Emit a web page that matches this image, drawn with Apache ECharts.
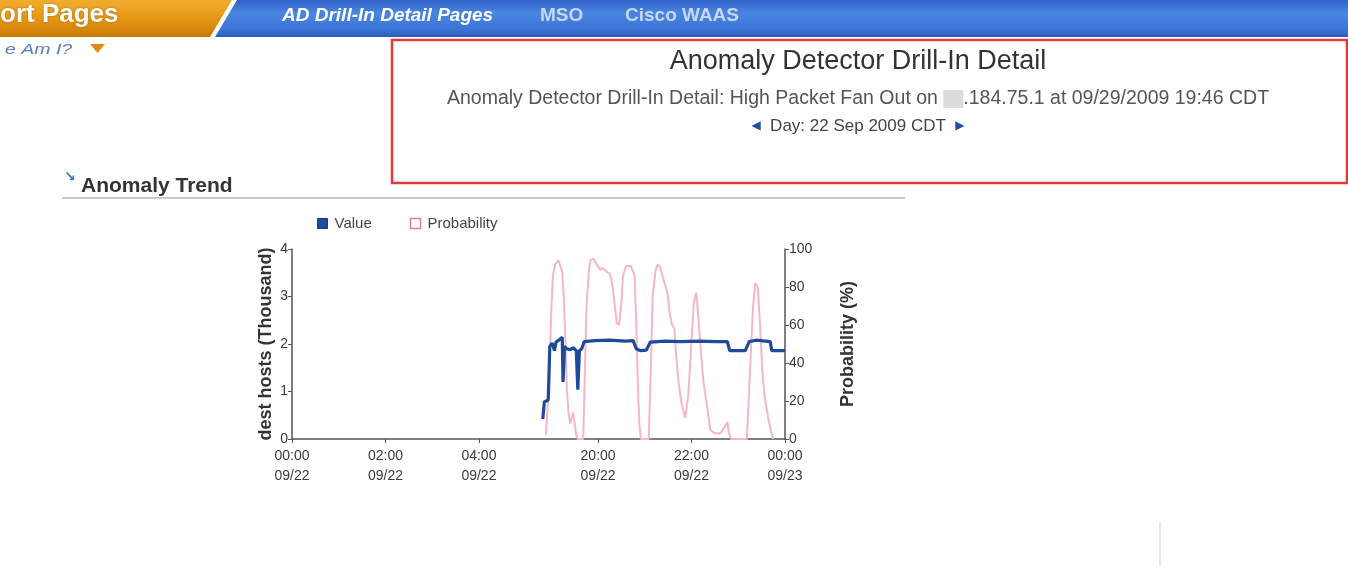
<!DOCTYPE html>
<html>
<head>
<meta charset="utf-8">
<script src="https://cdn.jsdelivr.net/npm/echarts@6/dist/echarts.min.js"></script>
<style>
  html, body { margin: 0; padding: 0; background: #fff; }
  #chart { width: 1348px; height: 570px; }
</style>
</head>
<body>
<div id="chart"></div>
<script>
// ---------------- DATA ----------------
const tickTimes = ['00:00', '02:00', '04:00', '20:00', '22:00', '24:00'];
const tickDates = ['09/22', '09/22', '09/22', '09/22', '09/22', '09/23'];
const tickTimeLabels = ['00:00', '02:00', '04:00', '20:00', '22:00', '00:00'];

const valueTimes = ['18:49','18:51','18:56','18:58','19:01','19:04','19:06','19:11','19:14','19:15','19:17','19:20','19:24','19:28','19:32','19:34','19:36','19:39','19:42','19:56','20:15','20:35','20:45','20:49','20:54','21:02','21:07','21:26','21:45','22:11','22:30','22:46','22:49','23:09','23:14','23:23','23:41','23:43','24:00'];
const valueData  = [0.42, 0.78, 0.82, 1.95, 2.02, 1.86, 2.04, 2.10, 2.14, 1.20, 1.95, 1.90, 1.88, 1.92, 1.86, 1.04, 1.86, 1.90, 2.05, 2.07, 2.08, 2.06, 2.07, 1.90, 1.86, 1.87, 2.04, 2.06, 2.05, 2.06, 2.05, 2.05, 1.86, 1.86, 2.05, 2.08, 2.05, 1.86, 1.86];

const probTimes = ['18:53','18:57','19:00','19:02','19:05','19:09','19:11','19:14','19:16','19:18','19:20','19:22','19:24','19:28','19:32','19:34','19:41','19:43','19:45','19:48','19:50','19:54','19:58','20:03','20:06','20:11','20:15','20:18','20:21','20:24','20:27','20:30','20:32','20:36','20:42','20:47','20:49','20:51','20:53','20:55','21:05','21:08','21:10','21:14','21:17','21:20','21:24','21:29','21:32','21:35','21:38','21:40','21:43','21:47','21:52','21:56','22:00','22:03','22:06','22:08','22:11','22:15','22:20','22:24','22:29','22:37','22:42','22:46','22:48','22:51','23:11','23:15','23:19','23:22','23:25','23:28','23:31','23:34','23:38','23:42','23:45'];
const probData  = [2, 30, 68, 86, 92, 94, 95, 88, 75, 52, 26, 14, 8, 14, 2, 0, 0, 35, 68, 88, 94, 95, 92, 89, 90, 88, 87, 82, 72, 61, 60, 72, 86, 91, 91, 86, 60, 30, 8, 0, 0, 40, 75, 89, 92, 90, 84, 77, 66, 60, 58, 45, 31, 19, 11, 24, 52, 72, 77, 68, 52, 31, 17, 5, 3, 3, 6, 9, 3, 0, 0, 35, 70, 82, 80, 60, 35, 22, 12, 4, 0];

// ---------------- AXIS COMPRESSION (hidden stretch of the day) ----------------
const SKIP_HOURS = 13.45;   // the empty 04:00-20:00 stretch is collapsed on this axis
function hours(t) { const p = t.split(':'); return +p[0] + (+p[1]) / 60; }
function toAxis(h) { return h >= 12 ? h - SKIP_HOURS : h; }

const tickAxisVals = tickTimes.map(t => toAxis(hours(t)));
const AXIS_MAX = toAxis(24);

const valueSeries = valueTimes.map((t, i) => [toAxis(hours(t)), valueData[i]]);
const probSeries = probTimes.map((t, i) => [toAxis(hours(t)), probData[i]]);

const FONT = '"Liberation Sans", Arial, Helvetica, sans-serif';

function tickLabel(v) {
  let best = 0, bd = 1e9;
  tickAxisVals.forEach((a, i) => { const d = Math.abs(a - v); if (d < bd) { bd = d; best = i; } });
  return tickTimeLabels[best] + '\n' + tickDates[best];
}

const chart = echarts.init(document.getElementById('chart'), null, { renderer: 'canvas' });

const graphics = [
  // orange tab
  { type: 'polygon', z: 1, shape: { points: [[0,0],[232,0],[210,37],[0,37]] },
    style: { fill: new echarts.graphic.LinearGradient(0,0,0,1,[{offset:0,color:'#f2ad2e'},{offset:0.5,color:'#e69612'},{offset:1,color:'#c87c05'}]) } },
  // blue bar
  { type: 'polygon', z: 1, shape: { points: [[237,0],[1348,0],[1348,37],[215,37]] },
    style: { fill: new echarts.graphic.LinearGradient(0,0,0,1,[{offset:0,color:'#2f63c8'},{offset:0.35,color:'#4a86e0'},{offset:0.8,color:'#3a74d6'},{offset:1,color:'#2a5cbc'}]) } },
  { type: 'text', z: 2, style: { text: 'ort Pages', x: 0, y: 15, fill: '#fff', font: 'bold 26px ' + FONT, verticalAlign: 'middle', textShadowColor: 'rgba(0,0,0,0.35)', textShadowBlur: 2 } },
  { type: 'text', z: 2, style: { text: 'AD Drill-In Detail Pages', x: 282, y: 16, fill: '#fff', font: 'italic bold 19px ' + FONT, verticalAlign: 'middle' } },
  { type: 'text', z: 2, style: { text: 'MSO', x: 540, y: 16, fill: '#c6d7f2', font: 'bold 19px ' + FONT, verticalAlign: 'middle' } },
  { type: 'text', z: 2, style: { text: 'Cisco WAAS', x: 625, y: 16, fill: '#c6d7f2', font: 'bold 19px ' + FONT, verticalAlign: 'middle' } },
  // where am I
  { type: 'text', z: 2, x: 5, y: 50, scaleX: 1.3, style: { text: 'e Am I?', x: 0, y: 0, fill: '#5a7cc0', font: 'italic 15px ' + FONT, verticalAlign: 'middle' } },
  { type: 'polygon', z: 2, shape: { points: [[90,44],[105,44],[97.5,53]] }, style: { fill: '#e08a10' } },
  // red box
  { type: 'rect', z: 1, shape: { x: 392, y: 40, width: 955, height: 143 }, style: { fill: 'none', stroke: '#e23a3a', lineWidth: 2.5 } },
  { type: 'text', z: 2, style: { text: 'Anomaly Detector Drill-In Detail', x: 858, y: 62, fill: '#333', font: '27px ' + FONT, align: 'center', verticalAlign: 'middle' } },
  { type: 'text', z: 2, style: {
      text: '{a|Anomaly Detector Drill-In Detail: High Packet Fan Out on }{b|}{a|.184.75.1 at 09/29/2009 19:46 CDT}',
      x: 858, y: 99, align: 'center', verticalAlign: 'middle',
      rich: {
        a: { fontSize: 19.5, fontFamily: FONT, fill: '#555' },
        b: { width: 20, height: 18, backgroundColor: '#dcdcdc' }
      } } },
  { type: 'text', z: 2, style: {
      text: '{arr|\u25C0}  Day: 22 Sep 2009 CDT  {arr|\u25B6}',
      x: 858, y: 126, align: 'center', verticalAlign: 'middle',
      fontSize: 17, fontFamily: FONT, fill: '#444',
      rich: { arr: { fontSize: 12, fill: '#1f4fa0', fontFamily: 'DejaVu Sans' } } } },
  // Anomaly Trend section
  { type: 'text', z: 2, style: { text: '\u2198', x: 64, y: 177, fill: '#3a6fc8', font: 'bold 14px DejaVu Sans', verticalAlign: 'middle' } },
  { type: 'text', z: 2, style: { text: 'Anomaly Trend', x: 81, y: 186, fill: '#333', font: 'bold 21px ' + FONT, verticalAlign: 'middle' } },
  { type: 'line', z: 1, shape: { x1: 62, y1: 198, x2: 905, y2: 198 }, style: { stroke: '#c8c8c8', lineWidth: 2 } },
  { type: 'line', z: 1, shape: { x1: 1160, y1: 522, x2: 1160, y2: 566 }, style: { stroke: '#d0d0d0', lineWidth: 1 } }
];

const option = {
  backgroundColor: '#fff',
  animation: false,
  textStyle: { fontFamily: FONT },
  graphic: graphics,
  legend: {
    left: 312, top: 211,
    itemWidth: 10, itemHeight: 10, itemGap: 38,
    icon: 'rect',
    textStyle: { fontSize: 15, color: '#444', fontFamily: FONT, padding: [0, 0, 0, 2] },
    data: [
      { name: 'Value', itemStyle: { color: '#1f4a9c', borderColor: '#163a80', borderWidth: 1 } },
      { name: 'Probability', itemStyle: { color: '#fff', borderColor: '#e27f98', borderWidth: 1.5 } }
    ]
  },
  grid: { left: 292, right: 563, top: 249, bottom: 131, containLabel: false },
  xAxis: {
    type: 'value', min: 0, max: AXIS_MAX,
    axisLine: { show: true, lineStyle: { color: '#555', width: 1.5 } },
    axisTick: { show: true, length: 4, lineStyle: { color: '#555' }, customValues: tickAxisVals },
    axisLabel: { customValues: tickAxisVals, formatter: tickLabel, fontSize: 14, lineHeight: 20, color: '#3a3a3a', margin: 7, fontFamily: FONT },
    splitLine: { show: false }
  },
  yAxis: [
    {
      type: 'value', min: 0, max: 4, interval: 1, position: 'left',
      name: 'dest hosts (Thousand)', nameLocation: 'middle', nameGap: 17, nameRotate: 90,
      nameTextStyle: { fontSize: 18, fontWeight: 'bold', color: '#333', fontFamily: FONT },
      axisLine: { show: true, lineStyle: { color: '#555', width: 1.5 } },
      axisTick: { show: true, length: 4, lineStyle: { color: '#555' } },
      axisLabel: { fontSize: 14, color: '#3a3a3a', margin: 4 },
      splitLine: { show: false }
    },
    {
      type: 'value', min: 0, max: 100, interval: 20, position: 'right',
      name: 'Probability (%)', nameLocation: 'middle', nameGap: 54, nameRotate: 90,
      nameTextStyle: { fontSize: 18, fontWeight: 'bold', color: '#333', fontFamily: FONT },
      axisLine: { show: true, lineStyle: { color: '#555', width: 1.5 } },
      axisTick: { show: true, length: 4, lineStyle: { color: '#555' } },
      axisLabel: { fontSize: 14, color: '#3a3a3a', margin: 4 },
      splitLine: { show: false }
    }
  ],
  series: [
    {
      name: 'Probability', type: 'line', yAxisIndex: 1, data: probSeries,
      showSymbol: false, z: 2,
      lineStyle: { color: '#f5b7c5', width: 2 },
      itemStyle: { color: '#f5b7c5' }
    },
    {
      name: 'Value', type: 'line', yAxisIndex: 0, data: valueSeries,
      showSymbol: false, z: 3,
      lineStyle: { color: '#1f4a9c', width: 3.2 },
      itemStyle: { color: '#1f4a9c' }
    }
  ]
};
chart.setOption(option);
</script>
</body>
</html>
